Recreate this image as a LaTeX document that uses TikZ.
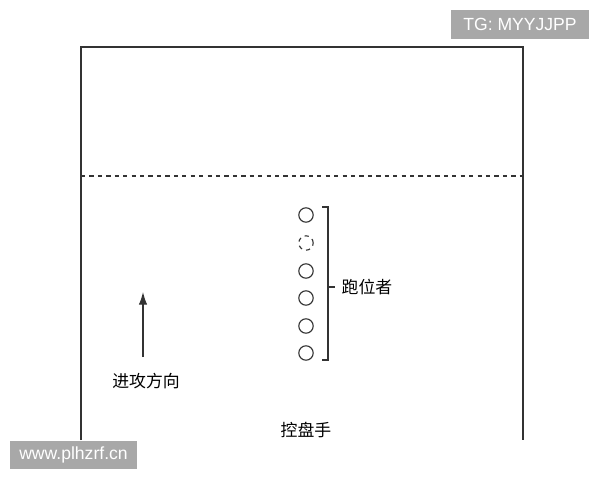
\documentclass[tikz,border=0pt]{standalone}
\usepackage{fontspec}
\setmainfont{Liberation Sans}
\newfontfamily\cjk{Noto Sans CJK SC}
\usetikzlibrary{arrows.meta}
\definecolor{court}{HTML}{333333}
\definecolor{mark}{HTML}{A8A8A8}
\tikzset{
  player/.style={circle,draw=court,thick,minimum size=0.36cm,inner sep=0pt},
  cjklabel/.style={font=\cjk\fontsize{12}{14}\selectfont,text=black,inner sep=1pt},
  wmark/.style={fill=mark,text=white,font=\fontsize{12.5}{14}\selectfont,inner sep=3pt,minimum height=0.72cm}
}
\begin{document}
\begin{tikzpicture}[x=0.025cm,y=-0.025cm]
                              \useasboundingbox (0,0) rectangle (600,480);

                              % Court
                              \draw[court,thick] (81,440) |- (523,47) -- (523,440);
                              \draw[court,thick,dashed] (81,176) -- (523,176);

                              % Runners
                              \foreach \i/\y in {1/215,3/271,4/298,5/326,6/353}
                                    \node[player] (r\i) at (306,\y) {};
                              \node[player,dashed] (r2) at (306,243) {};

                              % Bracket
                              \coordinate (btop) at (328,207);
                              \coordinate (bbot) at (328,360);
                              \coordinate (btick) at (335,287);
                              \node[cjklabel,anchor=west] (runners) at (340,287) {跑位者};
                              \draw[court,thick] ([xshift=-0.15cm]btop) -- (btop) -- (bbot)
                                    -- ([xshift=-0.15cm]bbot);
                              \draw[court,thick] (btick -| btop) -- (btick);

                              % Attack direction
                              \node[cjklabel] (dir) at (146,381) {进攻方向};
                              \coordinate (arrowtail) at (143,357);
                              \coordinate (arrowhead) at (143,292);
                              \draw[court,thick,-{Latex[length=9pt,width=6pt]}] (arrowtail) -- (arrowhead);

                              % Ball handler
                              \node[cjklabel] (handler) at (306,430) {控盘手};

                              % Watermarks
                              \node[wmark,minimum width=3.45cm] (tg) at (520,24.5) {TG: MYYJJPP};
                              \node[wmark,minimum width=3.18cm] (site) at (73.5,455) {www.plhzrf.cn};
                        \end{tikzpicture}
\end{document}
